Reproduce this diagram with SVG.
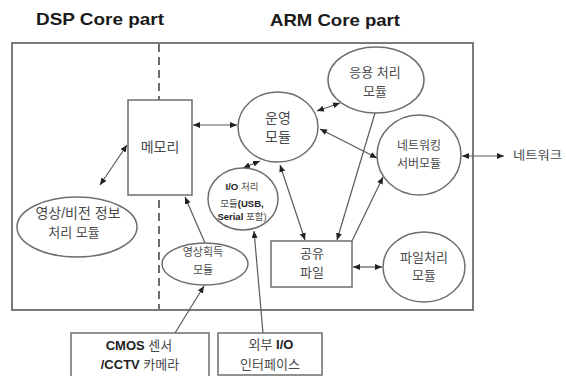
<svg xmlns="http://www.w3.org/2000/svg" width="566" height="376" viewBox="0 0 566 376">
<style>
  .shape { fill: #ffffff; stroke: #6e6e6e; stroke-width: 1.5; }
  .frame { fill: none; stroke: #7a7a7a; stroke-width: 2; }
  .dash { fill: none; stroke: #6e6e6e; stroke-width: 2; stroke-dasharray: 8 5; }
  .title { font-family: "Liberation Sans", Arial, sans-serif; font-weight: bold; font-size: 17px; fill: #1a1a1a; text-anchor: middle; }
  .lbl { font-family: "Liberation Sans", "Noto Sans CJK KR", sans-serif; font-size: 13px; fill: #4a4a4a; text-anchor: middle; }
  .sm { font-size: 11px; }
  .xs { font-size: 9.5px; }
  .b { font-weight: bold; fill: #222; }
  .conn line { stroke: #5a5a5a; stroke-width: 1.2; }
  .both { marker-start: url(#ah); marker-end: url(#ah); }
  .one { marker-end: url(#ah); }
</style>
<defs>
  <marker id="ah" markerUnits="userSpaceOnUse" markerWidth="7" markerHeight="6" refX="7" refY="3" orient="auto-start-reverse">
    <path d="M0,0 L7,3 L0,6 z" fill="#222"/>
  </marker>
</defs>
<rect width="566" height="376" fill="#ffffff"/>

<g id="titles">
  <text class="title" x="100" y="25" textLength="128" lengthAdjust="spacingAndGlyphs">DSP Core part</text>
  <text class="title" x="335" y="26" textLength="130" lengthAdjust="spacingAndGlyphs">ARM Core part</text>
</g>

<g id="frame">
  <rect class="frame" x="12" y="43" width="461" height="267"/>
  <line class="dash" x1="159" y1="44" x2="159" y2="309"/>
</g>

<g class="conn" id="connectors">
  <line class="both" x1="100" y1="185" x2="127" y2="145"/>
  <line class="both" x1="193" y1="125" x2="237" y2="125"/>
  <line class="both" x1="260" y1="161" x2="243" y2="168"/>
  <line class="both" x1="280" y1="165" x2="305" y2="240"/>
  <line class="both" x1="340" y1="103" x2="317" y2="111"/>
  <line class="both" x1="320" y1="129" x2="377" y2="158"/>
  <line class="one" x1="375" y1="113" x2="337" y2="240"/>
  <line class="one" x1="352" y1="241" x2="383" y2="177"/>
  <line class="one" x1="205" y1="243" x2="185" y2="197"/>
  <line class="one" x1="263" y1="333" x2="254" y2="231"/>
  <line class="one" x1="175" y1="333" x2="204" y2="286"/>
  <line class="both" x1="353" y1="267" x2="382" y2="267"/>
  <line class="both" x1="462" y1="156" x2="504" y2="156"/>
</g>

<g id="memory">
  <rect class="shape" x="128" y="100" width="64" height="95"/>
  <text class="lbl" x="160" y="152" style="font-size:14px">메모리</text>
</g>

<g id="vision">
  <ellipse class="shape" cx="77" cy="227" rx="60" ry="30"/>
  <text class="lbl" x="78" y="218" style="font-size:14px">영상/비전 정보</text>
  <text class="lbl" x="74" y="237">처리 모듈</text>
</g>

<g id="operation">
  <ellipse class="shape" cx="278" cy="127" rx="40" ry="35"/>
  <text class="lbl" x="278" y="123" style="font-size:14px">운영</text>
  <text class="lbl" x="278" y="142" style="font-size:14px">모듈</text>
</g>

<g id="application">
  <ellipse class="shape" cx="376" cy="80" rx="48" ry="33"/>
  <text class="lbl" x="375" y="77">응용 처리</text>
  <text class="lbl" x="375" y="96">모듈</text>
</g>

<g id="network-server">
  <ellipse class="shape" cx="419" cy="155" rx="42" ry="40"/>
  <text class="lbl" x="419" y="150" style="font-size:12px">네트워킹</text>
  <text class="lbl" x="419" y="168" style="font-size:12px">서버모듈</text>
</g>

<g id="io-module">
  <ellipse class="shape" cx="243" cy="199" rx="35" ry="31"/>
  <text class="lbl xs" x="242" y="190"><tspan class="b">I/O</tspan> 처리</text>
  <text class="lbl xs" x="242" y="207">모듈<tspan class="b">(USB,</tspan></text>
  <text class="lbl xs" x="242" y="220"><tspan class="b">Serial</tspan> 포함)</text>
</g>

<g id="capture">
  <ellipse class="shape" cx="205" cy="264" rx="43" ry="21"/>
  <text class="lbl sm" x="203" y="256">영상획득</text>
  <text class="lbl sm" x="203" y="274">모듈</text>
</g>

<g id="shared-file">
  <rect class="shape" x="271" y="241" width="81" height="46"/>
  <text class="lbl" x="312" y="258">공유</text>
  <text class="lbl" x="312" y="277">파일</text>
</g>

<g id="file-module">
  <ellipse class="shape" cx="424" cy="267" rx="41" ry="35"/>
  <text class="lbl" x="424" y="262">파일처리</text>
  <text class="lbl" x="424" y="280">모듈</text>
</g>

<g id="camera">
  <rect class="shape" x="71" y="333" width="138" height="45"/>
  <text class="lbl" x="139" y="350"><tspan class="b">CMOS</tspan> 센서</text>
  <text class="lbl" x="140" y="369"><tspan class="b">/CCTV</tspan> 카메라</text>
</g>

<g id="external-io">
  <rect class="shape" x="218" y="333" width="104" height="42"/>
  <text class="lbl" x="271" y="349">외부 <tspan class="b">I/O</tspan></text>
  <text class="lbl" x="270" y="369">인터페이스</text>
</g>

<g id="network">
  <text class="lbl" x="513" y="160" style="text-anchor:start;font-size:12px" textLength="49" lengthAdjust="spacingAndGlyphs">네트워크</text>
</g>
</svg>
